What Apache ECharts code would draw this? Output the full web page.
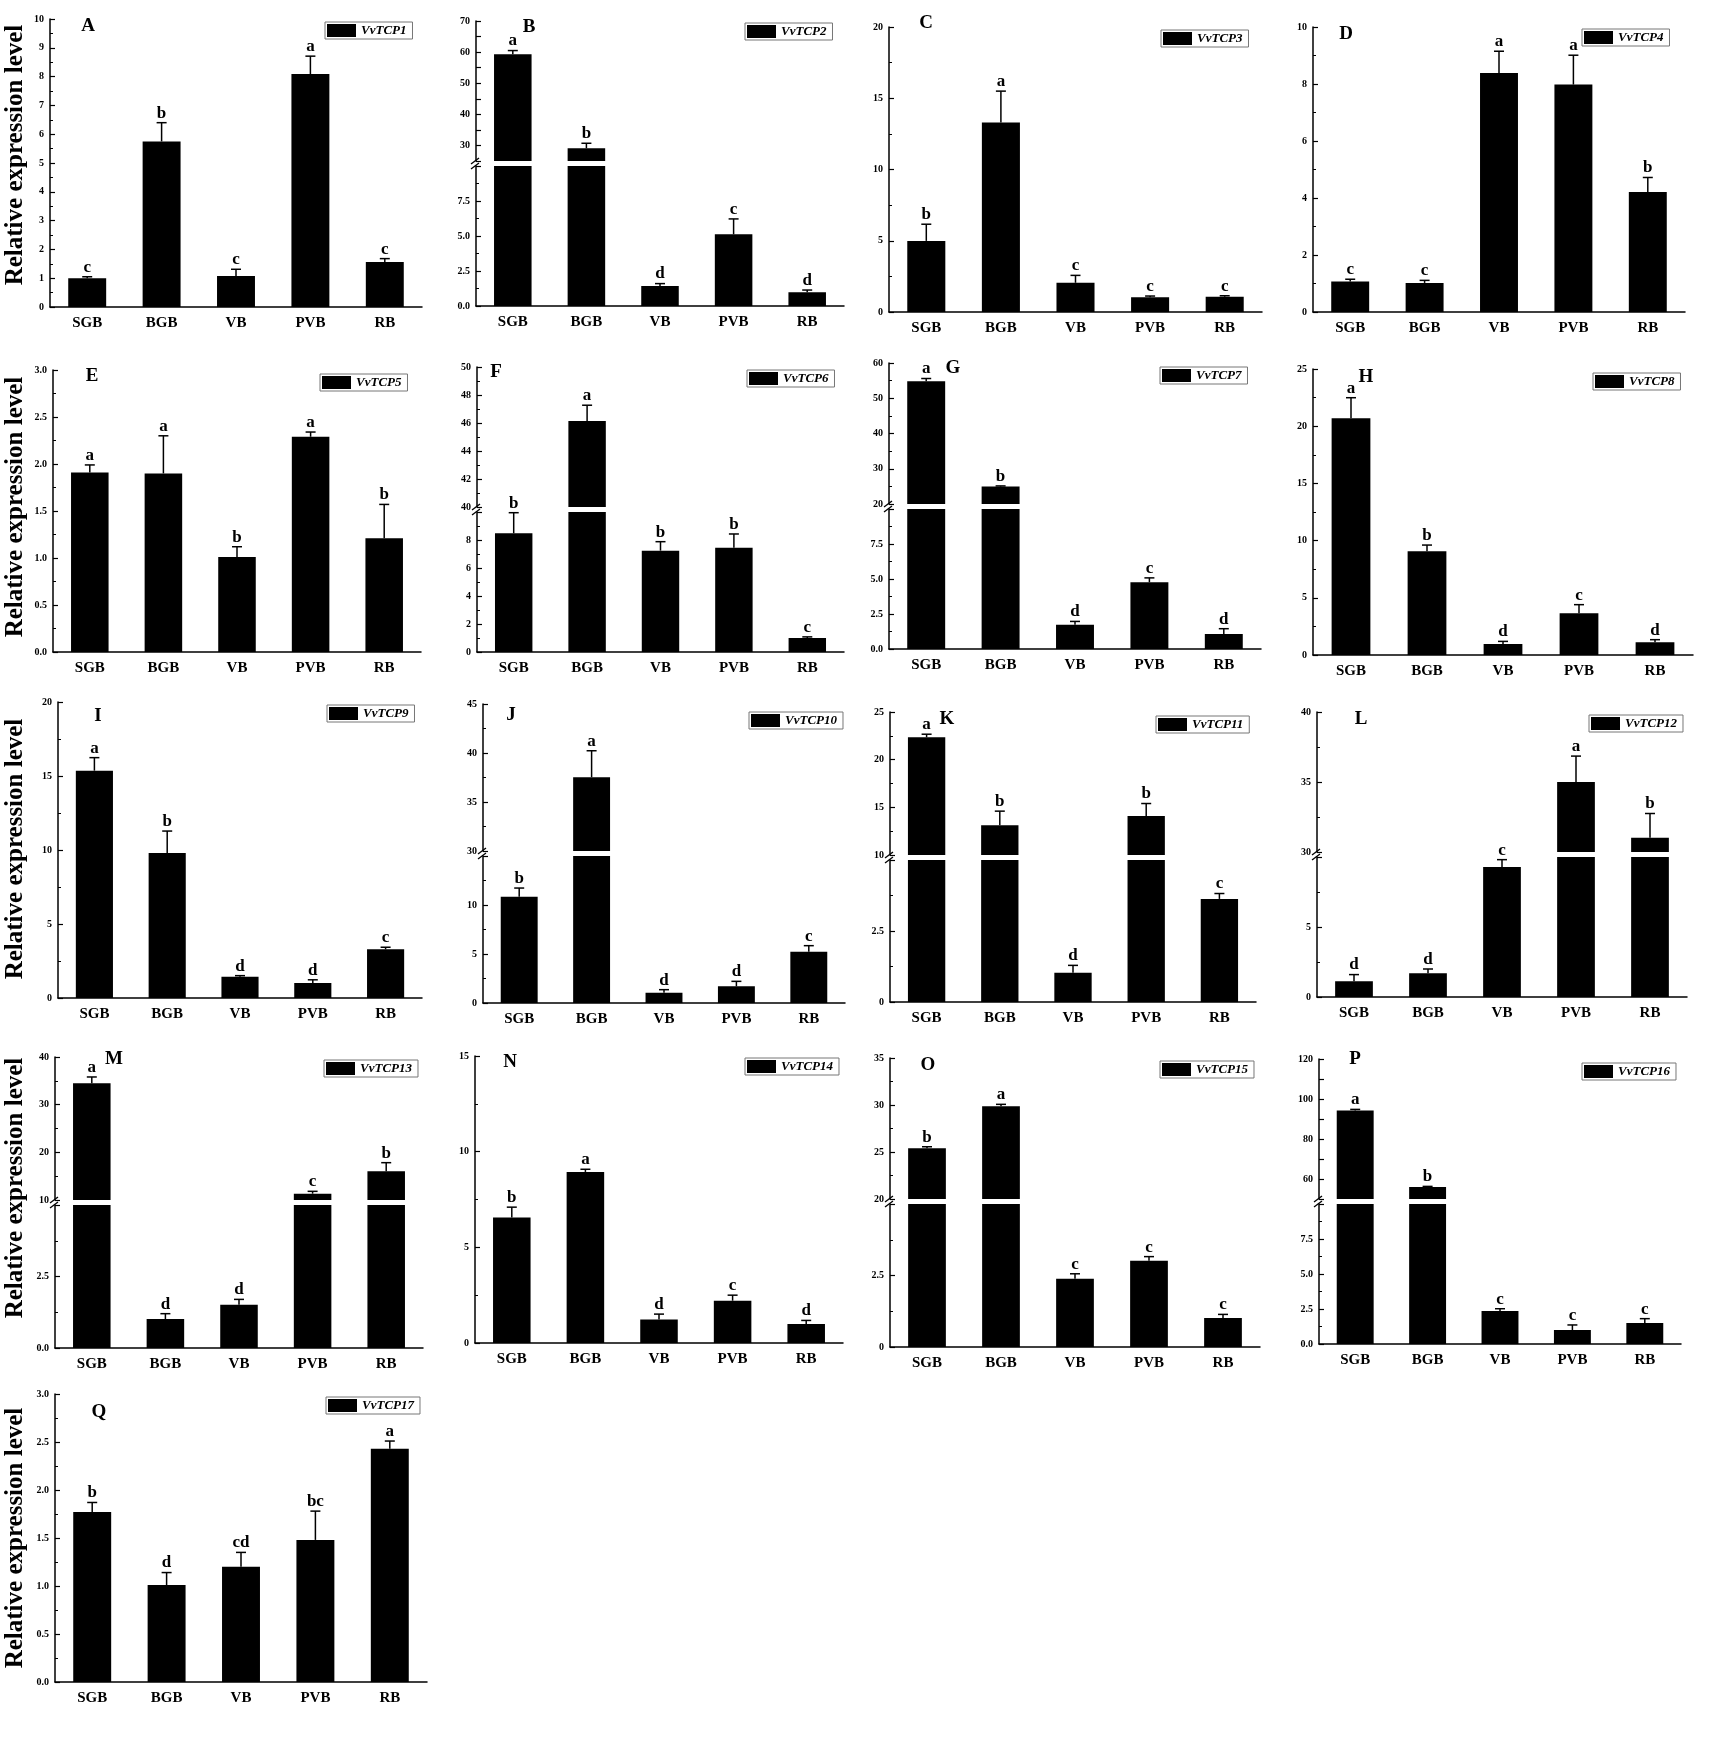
<!DOCTYPE html>
<html>
<head>
<meta charset="utf-8">
<title>VvTCP relative expression</title>
<script src="https://cdn.jsdelivr.net/npm/echarts@6/dist/echarts.min.js"></script>
<style>
html, body { margin: 0; padding: 0; background: #fff; }
#chart { width: 1713px; height: 1745px; }
</style>
</head>
<body>
<div id="chart"></div>
<script>
const categories = ['SGB', 'BGB', 'VB', 'PVB', 'RB']
const genes = ['VvTCP1', 'VvTCP2', 'VvTCP3', 'VvTCP4', 'VvTCP5', 'VvTCP6', 'VvTCP7', 'VvTCP8', 'VvTCP9',
  'VvTCP10', 'VvTCP11', 'VvTCP12', 'VvTCP13', 'VvTCP14', 'VvTCP15', 'VvTCP16', 'VvTCP17']
const panelLetters = ['A', 'B', 'C', 'D', 'E', 'F', 'G', 'H', 'I', 'J', 'K', 'L', 'M', 'N', 'O', 'P', 'Q']

// mean, error (upper half only drawn) and significance letters
const tcp1 = [1.0, 5.75, 1.08, 8.09, 1.56]
const tcp1Err = [0.05, 0.65, 0.23, 0.62, 0.12]
const tcp1Sig = ['c', 'b', 'c', 'a', 'c']
const tcp2 = [59.3, 29.1, 1.43, 5.12, 0.98]
const tcp2Err = [1.2, 1.6, 0.17, 1.1, 0.16]
const tcp2Sig = ['a', 'b', 'd', 'c', 'd']
const tcp3 = [4.99, 13.3, 2.05, 1.03, 1.07]
const tcp3Err = [1.17, 2.2, 0.52, 0.09, 0.07]
const tcp3Sig = ['b', 'a', 'c', 'c', 'c']
const tcp4 = [1.07, 1.02, 8.39, 7.98, 4.21]
const tcp4Err = [0.08, 0.09, 0.76, 1.03, 0.51]
const tcp4Sig = ['c', 'c', 'a', 'a', 'b']
const tcp5 = [1.91, 1.9, 1.01, 2.29, 1.21]
const tcp5Err = [0.08, 0.4, 0.11, 0.05, 0.36]
const tcp5Sig = ['a', 'a', 'b', 'a', 'b']
const tcp6 = [8.48, 46.14, 7.24, 7.45, 1.0]
const tcp6Err = [1.47, 1.13, 0.64, 0.98, 0.08]
const tcp6Sig = ['b', 'a', 'b', 'b', 'c']
const tcp7 = [54.8, 24.93, 1.73, 4.77, 1.07]
const tcp7Err = [0.8, 0.2, 0.24, 0.31, 0.38]
const tcp7Sig = ['a', 'b', 'd', 'c', 'd']
const tcp8 = [20.69, 9.06, 0.96, 3.64, 1.11]
const tcp8Err = [1.8, 0.55, 0.23, 0.76, 0.23]
const tcp8Sig = ['a', 'b', 'd', 'c', 'd']
const tcp9 = [15.36, 9.8, 1.44, 1.01, 3.29]
const tcp9Err = [0.88, 1.48, 0.07, 0.22, 0.14]
const tcp9Sig = ['a', 'b', 'd', 'd', 'c']
const tcp10 = [10.85, 37.53, 1.05, 1.7, 5.24]
const tcp10Err = [0.88, 2.7, 0.31, 0.51, 0.61]
const tcp10Sig = ['b', 'a', 'd', 'd', 'c']
const tcp11 = [22.35, 13.12, 1.03, 14.1, 3.63]
const tcp11Err = [0.32, 1.48, 0.26, 1.3, 0.19]
const tcp11Sig = ['a', 'b', 'd', 'b', 'c']
const tcp12 = [1.12, 1.69, 9.29, 35.0, 31.02]
const tcp12Err = [0.48, 0.31, 0.52, 1.85, 1.73]
const tcp12Sig = ['d', 'd', 'c', 'a', 'b']
const tcp13 = [34.48, 1.01, 1.51, 11.33, 16.01]
const tcp13Err = [1.33, 0.19, 0.19, 0.49, 1.82]
const tcp13Sig = ['a', 'd', 'd', 'c', 'b']
const tcp14 = [6.56, 8.94, 1.23, 2.21, 0.99]
const tcp14Err = [0.54, 0.14, 0.28, 0.29, 0.19]
const tcp14Sig = ['b', 'a', 'd', 'c', 'd']
const tcp15 = [25.39, 29.86, 2.39, 3.02, 1.01]
const tcp15Err = [0.17, 0.21, 0.17, 0.14, 0.13]
const tcp15Sig = ['b', 'a', 'c', 'c', 'c']
const tcp16 = [94.3, 56.0, 2.36, 1.0, 1.5]
const tcp16Err = [0.5, 0.3, 0.16, 0.36, 0.31]
const tcp16Sig = ['a', 'b', 'c', 'c', 'c']
const tcp17 = [1.77, 1.01, 1.2, 1.48, 2.43]
const tcp17Err = [0.1, 0.13, 0.15, 0.3, 0.08]
const tcp17Sig = ['b', 'd', 'cd', 'bc', 'a']

const means = [tcp1, tcp2, tcp3, tcp4, tcp5, tcp6, tcp7, tcp8, tcp9, tcp10, tcp11, tcp12, tcp13, tcp14, tcp15, tcp16, tcp17]
const errors = [tcp1Err, tcp2Err, tcp3Err, tcp4Err, tcp5Err, tcp6Err, tcp7Err, tcp8Err, tcp9Err, tcp10Err,
  tcp11Err, tcp12Err, tcp13Err, tcp14Err, tcp15Err, tcp16Err, tcp17Err]
const sigs = [tcp1Sig, tcp2Sig, tcp3Sig, tcp4Sig, tcp5Sig, tcp6Sig, tcp7Sig, tcp8Sig, tcp9Sig, tcp10Sig,
  tcp11Sig, tcp12Sig, tcp13Sig, tcp14Sig, tcp15Sig, tcp16Sig, tcp17Sig]

// y scales: [min, max, interval]; high = upper part of a broken axis
// dec = decimals of the tick labels, step = only label multiples of it
const yScale = [
  { low: [0, 10, 1] },
  { low: [0, 10, 2.5], dec: 1, high: [25, 70, 5], step: 10 },
  { low: [0, 20, 5] },
  { low: [0, 10, 2] },
  { low: [0, 3, 0.5], dec: 1 },
  { low: [0, 10, 2], high: [40, 50, 2] },
  { low: [0, 10, 2.5], dec: 1, high: [20, 60, 10] },
  { low: [0, 25, 5] },
  { low: [0, 20, 5] },
  { low: [0, 15, 5], high: [30, 45, 5] },
  { low: [0, 5, 2.5], high: [10, 25, 5] },
  { low: [0, 10, 5], high: [30, 40, 5] },
  { low: [0, 5, 2.5], dec: 1, high: [10, 40, 10] },
  { low: [0, 15, 5] },
  { low: [0, 5, 2.5], high: [20, 35, 5] },
  { low: [0, 10, 2.5], dec: 1, high: [50, 120, 10], step: 20 },
  { low: [0, 3, 0.5], dec: 1 }
]

// panel boxes: [left, width, top, zero line, bottom of the upper part (broken axes)]
const layout = [
  [50, 372, 19, 307, null], [476, 368, 21, 306, 161], [889, 373, 27, 312, null], [1313, 372, 27, 312, null],
  [53, 368, 370, 652, null], [477, 367, 367, 652, 507], [889, 372, 363, 649, 504], [1313, 380, 369, 655, null],
  [58, 364, 702, 998, null], [483, 362, 704, 1003, 851], [890, 366, 712, 1002, 855], [1317, 370, 712, 997, 852],
  [55, 368, 1057, 1348, 1200], [475, 368, 1056, 1343, null], [890, 370, 1058, 1347, 1199], [1319, 362, 1059, 1344, 1199],
  [55, 372, 1394, 1682, null]
]
const legendPos = [
  [325, 22], [745, 23], [1161, 30], [1582, 29],
  [320, 374], [747, 370], [1160, 367], [1593, 373],
  [327, 705], [749, 712], [1156, 716], [1589, 715],
  [324, 1060], [745, 1058], [1160, 1061], [1582, 1063],
  [326, 1397]
]
const letterPos = [
  [88, 26], [529, 27], [926, 23], [1346, 34],
  [92, 376], [496, 372], [953, 368], [1366, 377],
  [98, 716], [511, 715], [947, 719], [1361, 719],
  [114, 1059], [510, 1062], [928, 1065], [1355, 1059],
  [99, 1412]
]
const yNameRows = [155, 507, 849, 1188, 1538]

const FONT = '"Liberation Serif", "Times New Roman", serif'
const GAP = 5

function errRenderer(sig) {
  return function (params, api) {
    const j = api.value(0)
    const m = api.value(1)
    const e = api.value(2)
    const base = api.coord([j, m])
    const top = api.coord([j, m + e])
    return {
      type: 'group',
      children: [
        { type: 'line', shape: { x1: base[0], y1: base[1], x2: top[0], y2: top[1] }, style: { stroke: '#000', lineWidth: 1.5 } },
        { type: 'line', shape: { x1: top[0] - 5, y1: top[1], x2: top[0] + 5, y2: top[1] }, style: { stroke: '#000', lineWidth: 1.5 } },
        {
          type: 'text', x: top[0], y: top[1] - 1,
          style: {
            text: sig[j], fill: '#000', fontFamily: FONT, fontWeight: 'bold', fontSize: 17,
            textAlign: 'center', textVerticalAlign: 'bottom', align: 'center', verticalAlign: 'bottom'
          }
        }
      ]
    }
  }
}

function labelFormatter(dec, step) {
  return function (v) {
    if (step && Math.abs(v % step) > 1e-9) return ''
    return dec ? v.toFixed(dec) : String(v)
  }
}

const grid = []
const xAxis = []
const yAxis = []
const series = []
const legend = []
const graphic = []

genes.forEach((gene, i) => {
  const [left, width, top, zero, brk] = layout[i]
  const sc = yScale[i]
  const mean = means[i]
  const err = errors[i]
  const parts = sc.high
    ? [
        { range: sc.low, top: brk + GAP, bottom: zero, isLow: true, dec: sc.dec },
        { range: sc.high, top: top, bottom: brk, isLow: false, dec: 0, step: sc.step }
      ]
    : [{ range: sc.low, top: top, bottom: zero, isLow: true, dec: sc.dec }]

  parts.forEach(part => {
    const gi = grid.length
    grid.push({ left: left, top: part.top, width: width, height: part.bottom - part.top })
    xAxis.push({
      type: 'category',
      gridIndex: gi,
      data: categories,
      show: part.isLow,
      axisLine: { lineStyle: { color: '#000', width: 1.5 } },
      axisTick: { inside: true, length: 4, lineStyle: { color: '#000', width: 1.2 } },
      axisLabel: { fontFamily: FONT, fontWeight: 'bold', fontSize: 15, color: '#000', margin: 9 }
    })
    yAxis.push({
      type: 'value',
      gridIndex: gi,
      min: part.range[0],
      max: part.range[1],
      interval: part.range[2],
      splitLine: { show: false },
      axisLine: { show: true, lineStyle: { color: '#000', width: 1.5 } },
      axisTick: { show: true, inside: true, length: 5, lineStyle: { color: '#000', width: 1.2 } },
      minorTick: { show: !part.step, splitNumber: 2, length: 3, lineStyle: { color: '#000', width: 1 } },
      axisLabel: {
        fontFamily: FONT, fontWeight: 'bold', fontSize: 10, color: '#000', margin: 6,
        showMaxLabel: !(sc.high && part.isLow),
        formatter: labelFormatter(part.dec, part.step)
      }
    })
    series.push({
      type: 'bar',
      name: gene,
      xAxisIndex: gi,
      yAxisIndex: gi,
      data: mean,
      barWidth: '51%',
      clip: true,
      silent: true,
      itemStyle: { color: '#000' }
    })
    const lowMax = sc.low[1]
    const errData = []
    mean.forEach((m, j) => {
      const inPart = !sc.high || (part.isLow ? m <= lowMax : m > lowMax)
      if (inPart) errData.push([j, m, err[j]])
    })
    series.push({
      type: 'custom',
      xAxisIndex: gi,
      yAxisIndex: gi,
      data: errData,
      encode: { x: 0, y: 1 },
      silent: true,
      z: 3,
      renderItem: errRenderer(sigs[i])
    })
  })

  legend.push({
    data: [{ name: gene, icon: 'rect' }],
    left: legendPos[i][0],
    top: legendPos[i][1],
    itemWidth: 29,
    itemHeight: 13,
    padding: [2, 6, 2, 2],
    borderColor: '#777',
    borderWidth: 1,
    selectedMode: false,
    textStyle: { fontFamily: FONT, fontStyle: 'italic', fontWeight: 'bold', fontSize: 13, color: '#000' }
  })

  graphic.push({
    type: 'text', x: letterPos[i][0], y: letterPos[i][1],
    style: {
      text: panelLetters[i], fill: '#000', fontFamily: FONT, fontWeight: 'bold', fontSize: 19,
      textAlign: 'center', textVerticalAlign: 'middle', align: 'center', verticalAlign: 'middle'
    }
  })

  // break marks on the y axis
  if (brk) {
    [brk, brk + GAP].forEach(y => {
      graphic.push({
        type: 'line',
        shape: { x1: left - 5, y1: y + 3, x2: left + 3, y2: y - 3 },
        style: { stroke: '#000', lineWidth: 1.3 }
      })
    })
  }
})

yNameRows.forEach(y => {
  graphic.push({
    type: 'text', x: 16, y: y, rotation: Math.PI / 2,
    style: {
      text: 'Relative expression level', fill: '#000', fontFamily: FONT, fontWeight: 'bold', fontSize: 25,
      textAlign: 'center', textVerticalAlign: 'middle', align: 'center', verticalAlign: 'middle'
    }
  })
})

const chart = echarts.init(document.getElementById('chart'))
chart.setOption({
  animation: false,
  backgroundColor: '#fff',
  textStyle: { fontFamily: FONT },
  grid: grid,
  xAxis: xAxis,
  yAxis: yAxis,
  legend: legend,
  graphic: graphic,
  series: series
})
</script>
</body>
</html>
